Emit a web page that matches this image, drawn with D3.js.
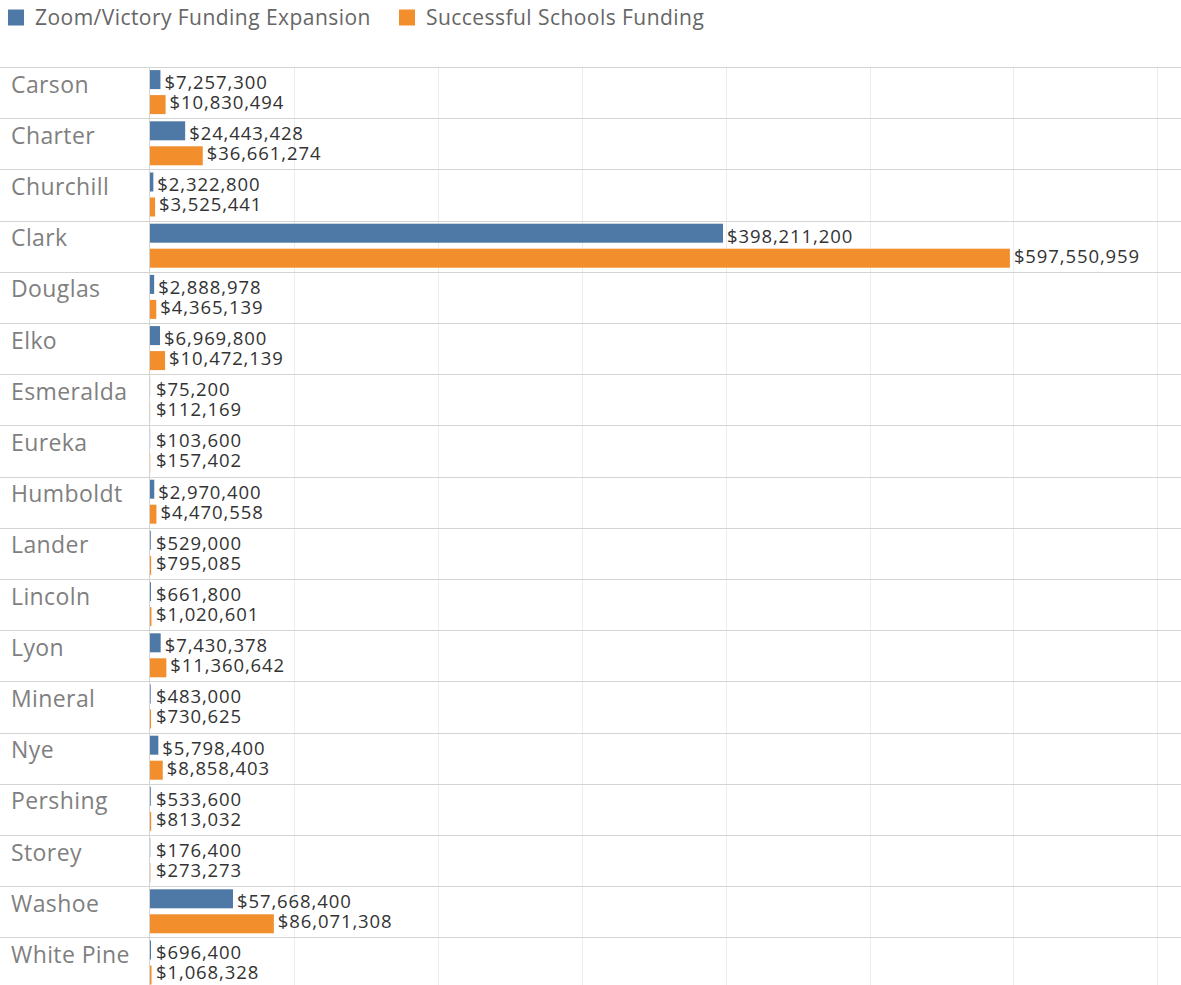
<!DOCTYPE html>
<html>
<head>
<meta charset="utf-8">
<script src="https://cdn.jsdelivr.net/npm/d3@7"></script>
<style>
  body { margin: 0; background: #fff; }
  svg { display: block; font-family: "Open Sans", sans-serif; }
</style>
</head>
<body>
<svg id="chart" width="1181" height="985"></svg>
<script>
// county names, top to bottom
const counties = ["Carson", "Charter", "Churchill", "Clark", "Douglas", "Elko", "Esmeralda",
  "Eureka", "Humboldt", "Lander", "Lincoln", "Lyon", "Mineral", "Nye", "Pershing",
  "Storey", "Washoe", "White Pine"];

const zoomVictory = [7257300, 24443428, 2322800, 398211200, 2888978, 6969800, 75200,
  103600, 2970400, 529000, 661800, 7430378, 483000, 5798400, 533600, 176400,
  57668400, 696400];

const successful = [10830494, 36661274, 3525441, 597550959, 4365139, 10472139, 112169,
  157402, 4470558, 795085, 1020601, 11360642, 730625, 8858403, 813032, 273273,
  86071308, 1068328];

const seriesNames = ["Zoom/Victory Funding Expansion", "Successful Schools Funding"];
const seriesColors = ["#4e79a7", "#f28e2b"];
const gridTicks = [0, 100e6, 200e6, 300e6, 400e6, 500e6, 600e6, 700e6];

const svg = d3.select("#chart");
const W = 1181;
const topY = 67, rowH = 51.2;
const left = 150;

const x = d3.scaleLinear().domain([0, 100e6]).range([left, left + 143.9]);
const y = d3.scaleBand().domain(counties).range([topY, topY + rowH * counties.length]);
const fmt = d3.format("$,");

// legend
const legend = svg.append("g").attr("class", "legend");
const legendX = [8, 399];
seriesNames.forEach((name, i) => {
  legend.append("rect")
    .attr("x", legendX[i]).attr("y", 9.5)
    .attr("width", 16).attr("height", 16)
    .attr("fill", seriesColors[i]);
  legend.append("text")
    .attr("x", legendX[i] + 27).attr("y", 17.5)
    .attr("dy", "0.35em")
    .attr("font-size", 21)
    .attr("letter-spacing", 0.45)
    .attr("fill", "#666")
    .text(name);
});

// vertical gridlines
svg.append("g").selectAll("line")
  .data(gridTicks.slice(1))
  .enter().append("line")
  .attr("x1", d => Math.round(x(d)) + 0.5).attr("x2", d => Math.round(x(d)) + 0.5)
  .attr("y1", topY).attr("y2", 985)
  .attr("stroke", "#ececec");

// row separators
svg.append("g").selectAll("line")
  .data(counties)
  .enter().append("line")
  .attr("x1", 0).attr("x2", W)
  .attr("y1", d => Math.round(y(d)) + 0.5).attr("y2", d => Math.round(y(d)) + 0.5)
  .attr("stroke", "#d4d4d4");

// axis line between labels and bars
svg.append("line")
  .attr("x1", left - 0.5).attr("x2", left - 0.5)
  .attr("y1", topY).attr("y2", 985)
  .attr("stroke", "#d4d4d4");

// county labels
svg.append("g").selectAll("text")
  .data(counties)
  .enter().append("text")
  .attr("x", 11)
  .attr("y", d => y(d) + 17.5)
  .attr("dy", "0.35em")
  .attr("font-size", 23)
  .attr("letter-spacing", 0.4)
  .attr("fill", "#7f7f7f")
  .text(d => d);

// bars + labels for each series
const barH = 19;
[zoomVictory, successful].forEach((vals, s) => {
  const g = svg.append("g");
  const barY = c => y(c) + rowH / 2 + (s === 0 ? -barH - 3.5 : 2.5);
  const labY = c => y(c) + rowH / 2 + (s === 0 ? -10 : 10);

  g.selectAll("rect")
    .data(counties)
    .enter().append("rect")
    .attr("x", x(0))
    .attr("y", d => barY(d))
    .attr("width", (d, i) => x(vals[i]) - x(0))
    .attr("height", barH)
    .attr("fill", seriesColors[s]);

  g.selectAll("text")
    .data(counties)
    .enter().append("text")
    .attr("x", (d, i) => Math.max(x(vals[i]), left + 2) + 4)
    .attr("y", d => labY(d))
    .attr("dy", "0.35em")
    .attr("font-size", 18.5)
    .attr("letter-spacing", 0.9)
    .attr("fill", "#333")
    .text((d, i) => fmt(vals[i]));
});
</script>
</body>
</html>
